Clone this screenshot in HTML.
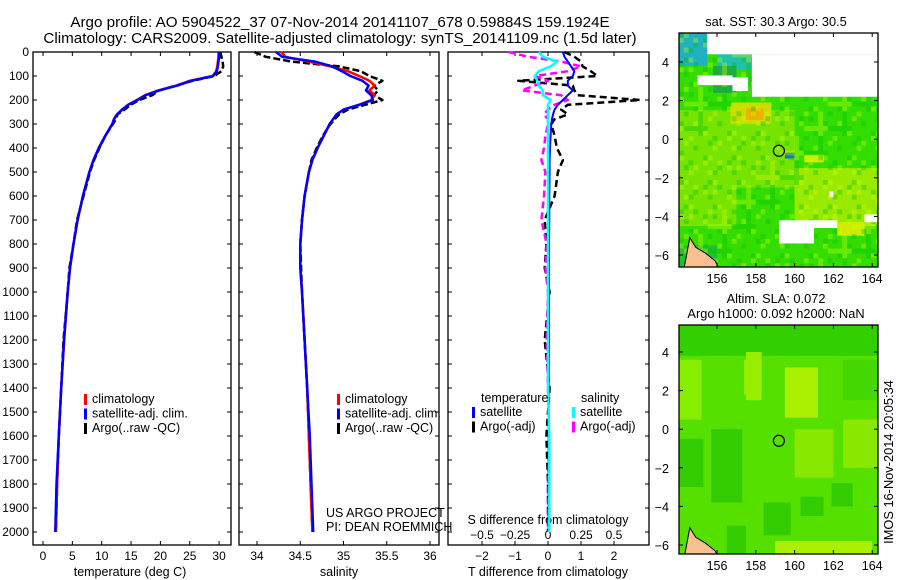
<!DOCTYPE html>
<html><head><meta charset="utf-8"><style>
html,body{margin:0;padding:0;background:#fff;}
svg{display:block;font-family:"Liberation Sans",sans-serif;}
text{font-size:12px;fill:#000;}
.big{font-size:15.2px;}
.ax{font-size:12.5px;}
.mt{font-size:12.8px;}
</style></head><body>
<svg id="fig" width="900" height="580" viewBox="0 0 900 580" xmlns="http://www.w3.org/2000/svg">
<text class="big" x="340" y="27" text-anchor="middle">Argo profile: AO 5904522_37 07-Nov-2014 20141107_678 0.59884S 159.1924E</text>
<text class="big" x="340" y="43" text-anchor="middle">Climatology: CARS2009. Satellite-adjusted climatology: synTS_20141109.nc (1.5d later)</text>
<g id="p1"></g>
<g id="p2"></g>
<g id="p3"></g>
<g id="m1"></g>
<g id="m2"></g>
<text class="mt" transform="translate(893,462) rotate(-90)" text-anchor="middle">IMOS 16-Nov-2014 20:05:34</text>
</svg>
<script>
const depths=[0,20,40,60,80,100,120,140,160,180,200,220,240,260,280,300,350,400,450,500,600,700,800,900,1000,1200,1400,1600,1800,2000];
const tempClim=[29.9,29.9,29.8,29.7,29.5,28.9,25.0,22.7,19.6,17.4,16.0,14.5,13.5,12.6,12.1,11.8,10.6,9.5,8.6,7.9,6.8,5.9,5.2,4.6,4.2,3.6,3.1,2.7,2.4,2.2];
const tempSat=[30.0,30.0,29.9,29.8,29.6,29.0,25.2,22.9,19.8,17.5,16.1,14.5,13.5,12.6,12.1,11.8,10.6,9.5,8.6,7.9,6.8,5.9,5.2,4.6,4.2,3.6,3.1,2.7,2.3,2.1];
const tempArgo=[30.2,30.4,30.6,30.7,30.4,29.2,25.5,22.6,19.8,18.6,16.4,14.9,13.9,12.7,12.4,11.9,10.6,9.6,8.7,8.0,6.9,5.8,5.2,4.5,4.2,3.5,3.1,2.7,2.4,2.2];
const salClim=[34.28,34.33,34.6,34.85,35.05,35.18,35.3,35.36,35.3,35.36,35.32,35.18,35.0,34.92,34.88,34.84,34.77,34.7,34.64,34.6,34.55,34.52,34.5,34.5,34.52,34.55,34.58,34.6,34.62,34.64];
const salSat=[34.22,34.29,34.67,34.87,34.98,35.08,35.22,35.29,35.26,35.32,35.34,35.18,35.0,34.92,34.88,34.84,34.77,34.7,34.64,34.6,34.55,34.52,34.5,34.5,34.52,34.55,34.58,34.61,34.63,34.65];
const salArgo=[33.97,34.1,34.4,34.95,35.2,35.3,35.45,35.35,35.4,35.35,35.45,35.25,35.05,34.95,34.9,34.85,34.76,34.69,34.63,34.6,34.55,34.52,34.5,34.51,34.52,34.55,34.58,34.6,34.62,34.64];
const dTsat=[0.45,0.5,0.6,0.7,0.8,0.75,0.6,0.6,0.75,0.6,0.45,0.3,0.2,0.15,0.12,0.1,0.08,0.06,0.05,0.05,0.04,0.04,0.03,0.03,0.03,0.03,0.02,0.02,0.02,0.02];
const dTargo=[0.5,0.8,1.0,1.05,1.3,1.5,-0.9,0.75,0.8,0.9,2.8,0.6,0.4,0.6,0.2,0.1,0.2,0.27,0.45,0.3,0.2,-0.1,-0.05,-0.1,0.05,-0.1,0.05,-0.05,0,0];
const dSsat=[-0.07,-0.04,0.07,0.02,-0.07,-0.1,-0.08,-0.07,-0.04,-0.04,0.02,0.0,0.0,0.0,0.0,0.0,0.0,0.0,0.0,0.0,0.0,0.0,0.0,0.0,0.0,0.0,0.0,0.01,0.01,0.01];
const dSargo=[-0.3,-0.15,0.1,0.25,0.15,-0.1,0.0,-0.1,-0.2,0.1,0.15,0.05,0.0,-0.03,0,0,-0.02,-0.03,-0.05,-0.02,-0.03,-0.05,-0.01,-0.02,0,-0.01,0,0.01,0,0];
const depthTicks=[0,100,200,300,400,500,600,700,800,900,1000,1100,1200,1300,1400,1500,1600,1700,1800,1900,2000];
const tempTicks=[0,5,10,15,20,25,30];
const salTicks=[34,34.5,35,35.5,36];
const dTTicks=[-2,-1,0,1,2];
const dSTicks=[-0.5,-0.25,0,0.25,0.5];
const latTicks=[4,2,0,-2,-4,-6];
const lonTicks=[156,158,160,162,164];
const argoPos=[159.19,-0.6];

const NS='http://www.w3.org/2000/svg';
function mk(p,tag,at,txt){const e=document.createElementNS(NS,tag);for(const k in at)e.setAttribute(k,at[k]);if(txt!==undefined)e.textContent=txt;p.appendChild(e);return e;}
const Y=d=>52+d*0.24;
const TOP=52,BOT=545;
function frame(g,x0,x1,name){
  const r=mk(g,'rect',{x:x0,y:TOP,width:x1-x0,height:BOT-TOP,fill:'none',stroke:'#000','stroke-width':1.3});
  
  
}
function line(g,xs,xf,color,w,dash,name){
  const pts=depths.map((d,i)=>xf(xs[i]).toFixed(1)+','+Y(d).toFixed(1)).join(' ');
  const l=mk(g,'polyline',{points:pts,fill:'none',stroke:color,'stroke-width':w,'stroke-dasharray':dash||'none','stroke-linejoin':'round'});
  
  
}
function xTicks(g,ticks,xf,ty,top,name){
  ticks.forEach(t=>{const x=xf(t);
    mk(g,'line',{x1:x,y1:BOT,x2:x,y2:BOT-4,stroke:'#000'});
    if(top) mk(g,'line',{x1:x,y1:TOP,x2:x,y2:TOP+4,stroke:'#000'});
    const tx=mk(g,'text',{x:x,y:ty,'text-anchor':'middle'},String(t).replace('-','\u2212'));
    
    
  });
}
function depthAxis(g,x0,x1,labels){
  depthTicks.forEach(d=>{const y=Y(d);
    mk(g,'line',{x1:x0,y1:y,x2:x0+4,y2:y,stroke:'#000'});
    mk(g,'line',{x1:x1,y1:y,x2:x1-4,y2:y,stroke:'#000'});
    if(labels){const t=mk(g,'text',{x:x0-4,y:y+4,'text-anchor':'end'},String(d));
      
      }
  });
}
function legend(g,x,y,items){
  items.forEach((it,i)=>{const yy=y+i*14.5;
    mk(g,'rect',{x:x,y:yy-9,width:3,height:11,fill:it[1]});
    const t=mk(g,'text',{x:x+8,y:yy,class:'ax'},it[0]);
    
    
  });
}
// Panel 1
const p1=document.getElementById('p1');
const tx=v=>43+v*5.87;
frame(p1,33,231,'temperature-frame');depthAxis(p1,33,231,true);
xTicks(p1,tempTicks,tx,560,true,'temperature-tick-label');
let t=mk(p1,'text',{x:130,y:576,'text-anchor':'middle',class:'ax'},'temperature (deg C)');
line(p1,tempArgo,tx,'#000',2.5,'7,3','argo-temperature-line');
line(p1,tempClim,tx,'#f00',2.5,null,'climatology-temperature-line');
line(p1,tempSat,tx,'#00f',2.5,null,'satellite-temperature-line');
legend(p1,84,403,[['climatology','#f00'],['satellite-adj. clim.','#00f'],['Argo(..raw -QC)','#000']]);
// Panel 2
const p2=document.getElementById('p2');
const sx=v=>257+(v-34)*86.5;
frame(p2,239,439,'salinity-frame');depthAxis(p2,239,439,false);
xTicks(p2,salTicks,sx,560,true,'salinity-tick-label');
t=mk(p2,'text',{x:339,y:576,'text-anchor':'middle',class:'ax'},'salinity');
line(p2,salArgo,sx,'#000',2.5,'7,3','argo-salinity-line');
line(p2,salClim,sx,'#f00',2.5,null,'climatology-salinity-line');
line(p2,salSat,sx,'#00f',2.5,null,'satellite-salinity-line');
legend(p2,337,403,[['climatology','#f00'],['satellite-adj. clim.','#00f'],['Argo(..raw -QC)','#000']]);
t=mk(p2,'text',{x:326,y:517,class:'ax'},'US ARGO PROJECT');
t=mk(p2,'text',{x:326,y:531,class:'ax'},'PI: DEAN ROEMMICH');
// Panel 3
const p3=document.getElementById('p3');
const dtx=v=>548+v*33;const dsx=v=>548+v*132;
frame(p3,448,649,'difference-frame');depthAxis(p3,448,649,false);
xTicks(p3,dTTicks,dtx,560,true,'t-diff-tick-label');
dSTicks.forEach(v=>{const tt=mk(p3,'text',{x:dsx(v),y:539,'text-anchor':'middle'},String(v).replace('-','\u2212'));});
t=mk(p3,'text',{x:548,y:524,'text-anchor':'middle',class:'ax'},'S difference from climatology');
t=mk(p3,'text',{x:548,y:576,'text-anchor':'middle',class:'ax'},'T difference from climatology');
line(p3,dTargo,dtx,'#000',2.5,'7,4','argo-t-diff-line');
line(p3,dSargo,dsx,'#f0f',2.5,'7,4','argo-s-diff-line');
line(p3,dTsat,dtx,'#00f',2,null,'satellite-t-diff-line');
line(p3,dSsat,dsx,'#0ff',2.5,null,'satellite-s-diff-line');
t=mk(p3,'text',{x:481,y:402,class:'ax'},'temperature');
t=mk(p3,'text',{x:581,y:402,class:'ax'},'salinity');
legend(p3,472,416,[['satellite','#00f'],['Argo(-adj)','#000']]);
legend(p3,572,416,[['satellite','#0ff'],['Argo(-adj)','#f0f']]);
// Maps
function map(id,top,bot,lat4y,latm6y,patches,base,texture,title1,title2){
  const g=document.getElementById(id);
  const L=679,R=878;
  const lx=v=>717+(v-156)*19.4;
  const ly=v=>lat4y+(4-v)*(latm6y-lat4y)/10;
  const cp=mk(g,'clipPath',{id:id+'c'});mk(cp,'rect',{x:L,y:top,width:R-L,height:bot-top});
  const c=mk(g,'g',{'clip-path':'url(#'+id+'c)'});
  mk(c,'rect',{x:L,y:top,width:R-L,height:bot-top,fill:base});
  patches.forEach(p=>{const r=mk(c,'rect',{x:lx(p[0]),y:ly(p[3]),width:lx(p[1])-lx(p[0]),height:ly(p[2])-ly(p[3]),fill:p[4]});
    });
  if(texture){
    const tg=mk(c,'g',{});
    for(let i=0;i<42;i++)for(let j=0;j<48;j++){const k=(i*7+j*13+(i*j)%5)%6;
      if(k<2) mk(tg,'rect',{x:L+i*4.8,y:top+j*4.9,width:4.8,height:4.9,fill:k?'#d0ff00':'#00c000','fill-opacity':0.35});}
    texture.forEach(p=>{mk(c,'rect',{x:lx(p[0]),y:ly(p[3]),width:lx(p[1])-lx(p[0]),height:ly(p[2])-ly(p[3]),fill:'#fff'});});
  }
  const coast=mk(c,'polygon',{points:[[154.6,-5.1],[154.9,-5.6],[155.4,-5.9],[155.9,-6.3],[156.1,-6.7],[154.3,-6.7]].map(q=>lx(q[0])+','+ly(q[1])).join(' '),fill:'#fbc090',stroke:'#000','stroke-width':1});
  
  const circ=mk(g,'circle',{cx:lx(argoPos[0]),cy:ly(argoPos[1]),r:5.5,fill:'none',stroke:'#000','stroke-width':1.2});
  
  const f=mk(g,'rect',{x:L,y:top,width:R-L,height:bot-top,fill:'none',stroke:'#000','stroke-width':1.3});
  
  latTicks.forEach(v=>{const y=ly(v);mk(g,'line',{x1:L,y1:y,x2:L+4,y2:y,stroke:'#000'});mk(g,'line',{x1:R,y1:y,x2:R-4,y2:y,stroke:'#000'});
    const tt=mk(g,'text',{x:L-10,y:y+5,'text-anchor':'end',class:'ax'},String(v).replace('-','\u2212'));});
  lonTicks.forEach(v=>{const x=lx(v);mk(g,'line',{x1:x,y1:bot,x2:x,y2:bot-4,stroke:'#000'});mk(g,'line',{x1:x,y1:top,x2:x,y2:top+4,stroke:'#000'});
    const tt=mk(g,'text',{x:x,y:bot+16,'text-anchor':'middle',class:'ax'},String(v));});
  let a=mk(g,'text',{x:776,y:title2?303:26,'text-anchor':'middle',class:'mt'},title1);
  if(title2){a=mk(g,'text',{x:776,y:318,'text-anchor':'middle',class:'mt'},title2);}
}
const sstPatches=[
 [154,160,-2.5,1.5,'#77e400'],[160,164.5,-4.5,-1.5,'#99ea00'],[154,157,-4.5,-1.5,'#77e400'],
 [156.7,158.8,0.8,1.9,'#ccdd00'],[157.5,158.4,1,1.6,'#f0b000'],[160.5,161.5,-1.2,-0.8,'#ccee00'],
 [160.2,160.9,-5.2,-4.7,'#f0b000'],[162.2,163.6,-5,-4.3,'#ccee00'],[159.5,160,-1,-0.7,'#1070d0'],
 [154,156,-6.7,-5.5,'#22c030'],[154,155.5,3.8,5.5,'#20b0c0'],[156,157.8,3.6,5,'#20c0b0'],
 [155.8,157,2.4,3.8,'#22aa44']
];
const sstWhite=[[155,156.8,2.8,3.3],[155.5,164.5,4.4,5.5],[157.8,164.5,2.2,4.4],[156.8,157.6,2.5,3.2],
 [159.2,161,-5.4,-4.2],[161,162.2,-4.6,-4.2],[163.6,164.5,-4.3,-3.9],[161.8,162,-3,-2.7]];
const slaPatches=[
 [154,165,3.8,5.5,'#33d000'],[154,155.2,0.5,3.6,'#88ee00'],[157.5,158.3,1.5,4,'#99ee00'],
 [159.5,161.2,0.6,3.2,'#aaf000'],[157.4,158.3,1.8,3.6,'#99ee00'],[160,162,-2.5,0,'#88e800'],
 [162.5,164.3,-2,0.5,'#88e800'],[155.7,157.3,-3.8,0,'#33cc00'],[154,155.3,-3,-0.5,'#33cc00'],
 [158.4,159.8,-5.5,-3.8,'#33cc00'],[160.3,161.5,-4.5,-3.5,'#33cc00'],[161.9,163,-4,-2.8,'#33cc00'],
 [159,164,-6.7,-5.8,'#aaf000'],[162.5,164.3,1.5,3.6,'#44d800'],[156.5,157.5,-6.7,-5,'#33cc00']
];
map('m1',33,267,62,255,sstPatches,'#33dd00',sstWhite,'sat. SST: 30.3 Argo: 30.5',null);
map('m2',325,554,352,545,slaPatches,'#55e000',null,'Altim. SLA: 0.072','Argo h1000: 0.092 h2000: NaN');
</script>
</body></html>
